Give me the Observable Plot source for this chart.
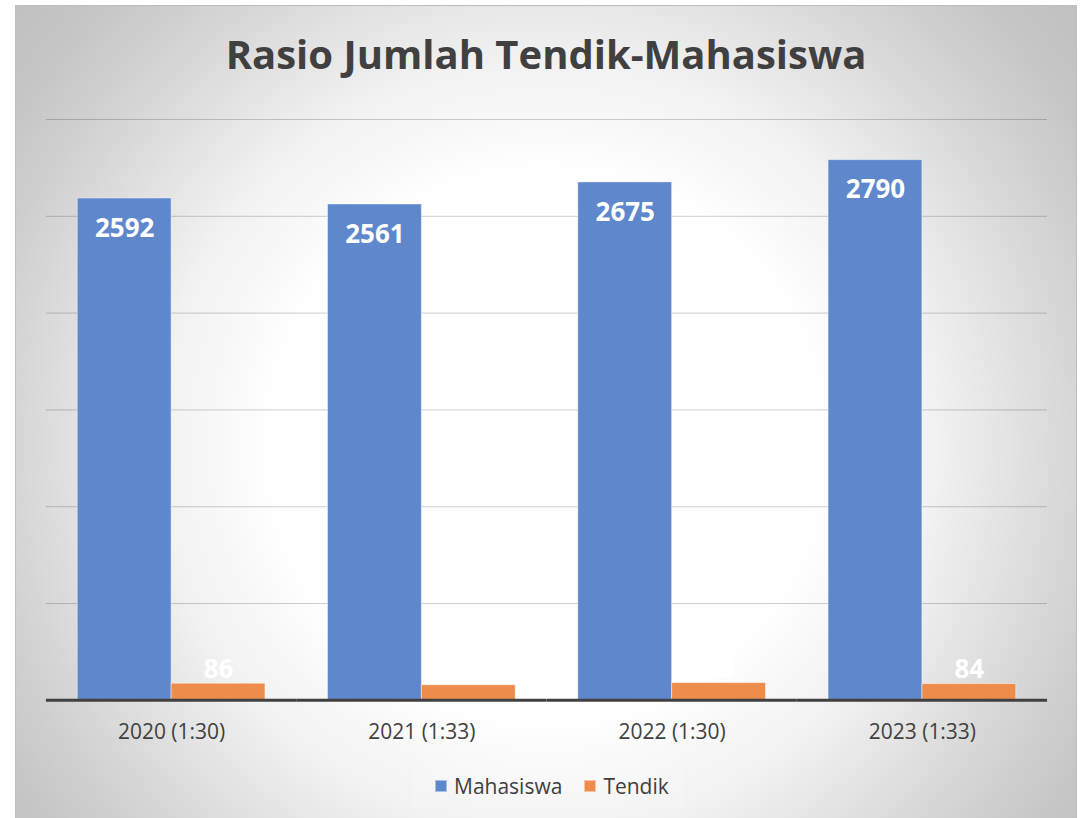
<!DOCTYPE html>
<html>
<head>
<meta charset="utf-8">
<script src="https://cdn.jsdelivr.net/npm/d3@7"></script>
<script src="https://cdn.jsdelivr.net/npm/@observablehq/plot@0.6"></script>
<style>
  html, body { margin: 0; padding: 0; background: #ffffff; width: 1081px; height: 818px; overflow: hidden; }
  #frame {
    position: absolute; left: 15px; top: 5px; width: 1062px; height: 820px;
    border: 1px solid #bdbdbd; box-sizing: border-box;
    background: radial-gradient(circle at 530px 440px, #ffffff 0px, #ffffff 270px, #f1f1f1 390px, #d6d6d6 530px, #c6c6c6 620px, #c0c0c0 700px);
    font-family: "Open Sans", Lato, sans-serif;
  }
  #title {
    position: absolute; left: 0; top: 28px; width: 100%; text-align: center;
    font-size: 40px; font-weight: bold; color: #404040; line-height: 1;
  }
  #chart { position: absolute; left: 0; top: 100px; }
  #legend {
    position: absolute; left: 395px; top: 757px; width: 273px; height: 45px;
    background: rgba(255,255,255,0.15);
    display: flex; align-items: center; box-sizing: border-box; padding-left: 24px;
    font-size: 21px; color: #404040;
  }
  .sw { width: 12px; height: 12px; box-sizing: border-box; display: inline-block; margin-right: 7px; }
  .item { display: flex; align-items: center; margin-right: 22px; }
</style>
</head>
<body>
<div id="frame">
  <div id="title"></div>
  <div id="chart"></div>
  <div id="legend"></div>
</div>
<script>
const titleText = "Rasio Jumlah Tendik-Mahasiswa";
const years = ["2020", "2021", "2022", "2023"];
const ratios = ["1:30", "1:33", "1:30", "1:33"];
const seriesNames = ["Mahasiswa", "Tendik"];
const mahasiswa = [2592, 2561, 2675, 2790];
const tendik = [86, 78, 89, 84];
const seriesColors = ["#5F87CC", "#EE8C4B"];
const swatchBorders = ["#a9bfe6", "#f6c3a0"];
const gridTicks = [500, 1000, 1500, 2000, 2500, 3000];

document.getElementById("title").textContent = titleText;

const data = [];
years.forEach((y, i) => {
  data.push({year: y, series: seriesNames[0], value: mahasiswa[i]});
  data.push({year: y, series: seriesNames[1], value: tendik[i]});
});
const ratioOf = Object.fromEntries(years.map((y, i) => [y, ratios[i]]));

const plot = Plot.plot({
  width: 1062,
  height: 650,
  marginLeft: 30,
  marginRight: 29,
  marginTop: 13,
  marginBottom: 55,
  style: {background: "transparent", fontFamily: "'Open Sans', Lato, sans-serif", color: "#404040", overflow: "visible"},
  fx: {domain: years, padding: 0, label: null, round: false},
  x: {domain: seriesNames, paddingInner: 0, paddingOuter: 1/3, axis: null, round: false},
  y: {domain: [0, 3000], axis: null},
  color: {domain: seriesNames, range: seriesColors},
  marks: [
    Plot.axisFx({anchor: "bottom", label: null, tickSize: 0, tickPadding: 24, fontSize: 21, fill: "#404040", tickFormat: d => `${d} (${ratioOf[d]})`}),
    Plot.ruleY(gridTicks, {stroke: "#000", strokeOpacity: 0.2, strokeWidth: 1}),
    Plot.barY(data, {fx: "year", x: "series", y: "value", fill: "series", stroke: "#ffffff", strokeOpacity: 0.45, strokeWidth: 1, inset: 0}),
    Plot.ruleY([0], {stroke: "#404040", strokeWidth: 3}),
    Plot.text(data.filter(d => d.series === seriesNames[0]), {fx: "year", x: "series", y: "value", text: d => String(d.value), dy: 30, fill: "#ffffff", fontSize: 26, fontWeight: "bold"}),
    Plot.text(data.filter(d => d.series === seriesNames[1]), {fx: "year", x: "series", y: "value", text: d => String(d.value), dy: -14, fill: "#ffffff", fontSize: 26, fontWeight: "bold"})
  ]
});
document.getElementById("chart").appendChild(plot);

const legend = document.getElementById("legend");
seriesNames.forEach((name, i) => {
  const item = document.createElement("div");
  item.className = "item";
  const sw = document.createElement("span");
  sw.className = "sw";
  sw.style.background = seriesColors[i];
  sw.style.border = `1px solid ${swatchBorders[i]}`;
  const lab = document.createElement("span");
  lab.textContent = name;
  item.appendChild(sw);
  item.appendChild(lab);
  legend.appendChild(item);
});
</script>
</body>
</html>
